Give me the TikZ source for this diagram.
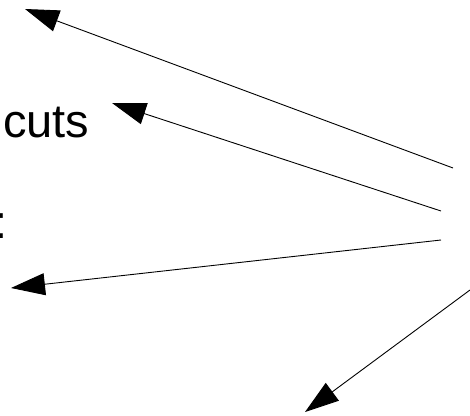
\documentclass[tikz,border=0pt]{standalone}
\usepackage{fontspec}
\setmainfont{Liberation Sans}
\usetikzlibrary{arrows.meta,positioning}

\begin{document}
\begin{tikzpicture}[
	x=1pt, y=-1pt,
		caption/.style = {inner sep=0pt, font=\fontsize{47pt}{53pt}\selectfont},
		pointer/.style = {line width=0.9pt,
									 -{Triangle[length=34pt, width=22pt]}}]
\useasboundingbox (0,0) rectangle (470,415);

\node (cuts) [caption, anchor=base east] at (89.5,137.3) {cuts};    % <-- text 1
\node (colon) [caption, anchor=base west] at (-5.6,238) {:};        % <-- text 2

% free ends on the right
\coordinate (src-1) at (453,168);
\coordinate (src-2) at (441,211);
\coordinate (src-3) at (441,240);
\coordinate (src-4) at (470,290);
% arrow tips
\coordinate (tip-1) at (25,9);
\coordinate (tip-2) at (112,103);
\coordinate (tip-3) at (11,288);
\coordinate (tip-4) at (305,412);

%%
\draw
	(src-1) edge[pointer] (tip-1)
	(src-2) edge[pointer] (tip-2)
	(src-3) edge[pointer] (tip-3)
	(src-4) edge[pointer] (tip-4)
	;
\end{tikzpicture}
\end{document}
